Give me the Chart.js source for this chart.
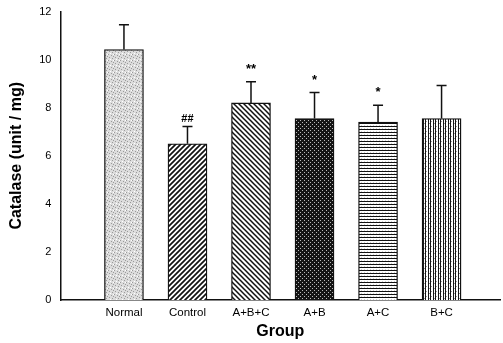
<!DOCTYPE html>
<html>
<head>
<meta charset="utf-8">
<script src="https://cdn.jsdelivr.net/npm/chart.js@4/dist/chart.umd.min.js"></script>
<style>
  html, body { margin: 0; padding: 0; background: #fff; }
  canvas { display: block; }
</style>
</head>
<body>
<canvas id="chartCatalase" width="503" height="343"></canvas>
<script>
const groups = ['Normal', 'Control', 'A+B+C', 'A+B', 'A+C', 'B+C']
const catalase = [10.42, 6.5, 8.2, 7.55, 7.4, 7.55]
const catalaseErr = [1.03, 0.72, 0.88, 1.08, 0.7, 1.38]
const marks = ['', '##', '**', '*', '*', '']
const yTicks = [0, 2, 4, 6, 8, 10, 12]

const fontFamily = '"Liberation Sans", Arial, sans-serif'

// little tiles used as bar fills
function tile(size, draw) {
    let c = document.createElement('canvas')
    c.width = size
    c.height = size
    let ctx = c.getContext('2d')
    ctx.fillStyle = '#fff'
    ctx.fillRect(0, 0, size, size)
    draw(ctx, size)
    return ctx.createPattern(c, 'repeat')
}

const fills = [
    // light stipple
    tile(6, (ctx) => {
        ctx.fillStyle = '#dcdcdc'
        ctx.fillRect(0, 0, 6, 6)
        ctx.fillStyle = '#9a9a9a'
        ctx.fillRect(0, 0, 1, 1); ctx.fillRect(3, 1, 1, 1); ctx.fillRect(1, 3, 1, 1)
        ctx.fillRect(4, 4, 1, 1); ctx.fillRect(5, 2, 1, 1)
        ctx.fillStyle = '#fff'
        ctx.fillRect(2, 5, 1, 1); ctx.fillRect(5, 0, 1, 1)
    }),
    // "/" hatch
    tile(5, (ctx, s) => {
        ctx.strokeStyle = '#111'
        ctx.lineWidth = 1.7
        ctx.beginPath()
        ctx.moveTo(-1, s + 1); ctx.lineTo(s + 1, -1)
        ctx.moveTo(-1, 1); ctx.lineTo(1, -1)
        ctx.moveTo(s - 1, s + 1); ctx.lineTo(s + 1, s - 1)
        ctx.stroke()
    }),
    // "\" hatch
    tile(5, (ctx, s) => {
        ctx.strokeStyle = '#111'
        ctx.lineWidth = 1.5
        ctx.beginPath()
        ctx.moveTo(-1, -1); ctx.lineTo(s + 1, s + 1)
        ctx.moveTo(s - 1, -1); ctx.lineTo(s + 1, 1)
        ctx.moveTo(-1, s - 1); ctx.lineTo(1, s + 1)
        ctx.stroke()
    }),
    // dark crosshatch
    tile(4, (ctx) => {
        ctx.fillStyle = '#151515'
        ctx.fillRect(0, 0, 4, 4)
        ctx.fillStyle = '#bbb'
        ctx.fillRect(0, 0, 1, 1)
        ctx.fillRect(2, 2, 1, 1)
    }),
    // horizontal lines
    tile(3, (ctx) => {
        ctx.fillStyle = '#111'
        ctx.fillRect(0, 0, 3, 1)
        ctx.fillStyle = '#d0d0d0'
        ctx.fillRect(1, 2, 1, 1)
    }),
    // vertical lines
    tile(5, (ctx) => {
        ctx.fillStyle = '#151515'
        ctx.fillRect(0, 0, 1, 5)
        ctx.fillRect(3, 0, 1, 5)
        ctx.fillStyle = '#999'
        ctx.fillRect(1, 1, 1, 1)
        ctx.fillRect(4, 3, 1, 1)
    })
]

const errorBars = {
    id: 'errorBars',
    afterDatasetsDraw(chart) {
        let ctx = chart.ctx
        let meta = chart.getDatasetMeta(0)
        let y = chart.scales.y
        ctx.save()
        ctx.strokeStyle = '#111'
        ctx.lineWidth = 1.5
        ctx.fillStyle = '#000'
        ctx.textAlign = 'center'
        ctx.textBaseline = 'alphabetic'
        meta.data.forEach((bar, i) => {
            let top = y.getPixelForValue(catalase[i])
            let hi = y.getPixelForValue(catalase[i] + catalaseErr[i])
            ctx.beginPath()
            ctx.moveTo(bar.x, top)
            ctx.lineTo(bar.x, hi)
            ctx.moveTo(bar.x - 5, hi)
            ctx.lineTo(bar.x + 5, hi)
            ctx.stroke()
            if (marks[i]) {
                let star = marks[i][0] == '*'
                ctx.font = 'bold ' + (star ? 13 : 11) + 'px ' + fontFamily
                ctx.fillText(marks[i], bar.x, hi - (star ? 9 : 4))
            }
        })
        ctx.restore()
    }
}

let canvas = document.getElementById('chartCatalase')
let myChart = new Chart(canvas, {
    type: 'bar',
    data: {
        datasets: [{
            data: catalase.map((v, i) => ({ x: i + 1, y: v })),
            backgroundColor: fills,
            borderColor: '#111',
            borderWidth: 1.3,
            borderSkipped: 'bottom',
            barThickness: 39
        }]
    },
    options: {
        responsive: false,
        animation: false,
        layout: { padding: { top: 9, right: 3, left: 7, bottom: 2 } },
        scales: {
            x: {
                type: 'linear',
                offset: false,
                min: 0,
                max: 6.92,
                grid: { display: false, drawTicks: true, tickLength: 4, color: '#111' },
                border: { color: '#111', width: 1.5 },
                afterBuildTicks: (axis) => { axis.ticks = groups.map((g, i) => ({ value: i + 1 })) },
                ticks: {
                    color: '#000',
                    font: { family: fontFamily, size: 11.5 },
                    padding: 2,
                    maxRotation: 0,
                    callback: (v) => groups[v - 1]
                },
                title: {
                    display: true,
                    text: 'Group',
                    color: '#000',
                    font: { family: fontFamily, size: 16, weight: 'bold' },
                    padding: { top: 0, bottom: 0 }
                }
            },
            y: {
                min: 0,
                max: 12,
                afterBuildTicks: (axis) => { axis.ticks = yTicks.map(v => ({ value: v })) },
                grid: { display: false, drawTicks: true, tickLength: 4, color: '#111' },
                border: { color: '#111', width: 1.5 },
                ticks: {
                    color: '#000',
                    font: { family: fontFamily, size: 11 },
                    padding: 5
                },
                title: {
                    display: true,
                    text: 'Catalase (unit / mg)',
                    color: '#000',
                    font: { family: fontFamily, size: 16, weight: 'bold' },
                    padding: { top: 0, bottom: 8 }
                }
            }
        },
        plugins: {
            legend: { display: false },
            tooltip: { enabled: false }
        }
    },
    plugins: [errorBars]
});
</script>
</body>
</html>
